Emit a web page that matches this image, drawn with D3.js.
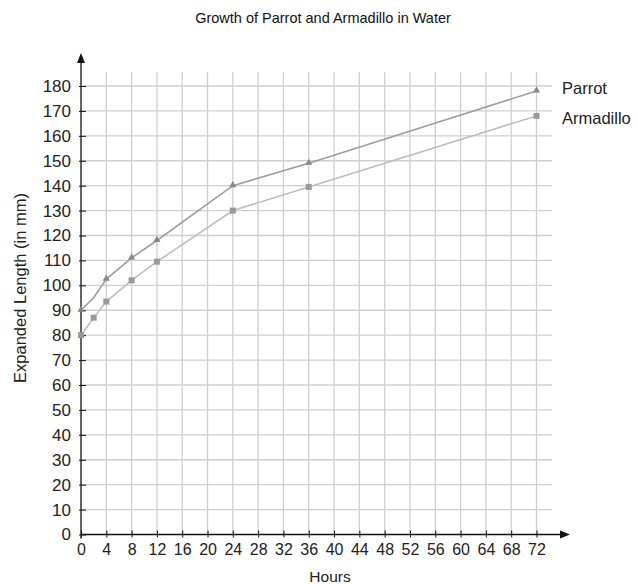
<!DOCTYPE html>
<html>
<head>
<meta charset="utf-8">
<script src="https://cdn.jsdelivr.net/npm/d3@7"></script>
<style>
  body { margin: 0; background: #fff; }
  svg { font-family: "Liberation Sans", Arial, sans-serif; }
</style>
</head>
<body>
<script>
// data
const hours = [0, 2, 4, 8, 12, 24, 36, 72];
const parrot = [90, 95, 102.5, 111, 118, 140, 149, 178];
const armadillo = [80, 87, 93.5, 102, 109.5, 130, 139.5, 168];
const parrotMarked = [true, false, true, true, true, true, true, true];
const xTicks = d3.range(0, 73, 4);
const yTicks = d3.range(0, 181, 10);

const width = 638, height = 584;
const svg = d3.select("body").append("svg").attr("width", width).attr("height", height);

const x = d3.scaleLinear().domain([0, 72]).range([81, 536.5]);
const y = d3.scaleLinear().domain([0, 180]).range([534.5, 86]);

// grid
svg.append("g").selectAll("line")
  .data(xTicks.filter(d => d > 0))
  .enter().append("line")
  .attr("x1", d => x(d)).attr("x2", d => x(d))
  .attr("y1", y(0)).attr("y2", 72)
  .attr("stroke", "#cfcfcf").attr("stroke-width", 1.3);

svg.append("g").selectAll("line")
  .data(yTicks.filter(d => d > 0))
  .enter().append("line")
  .attr("x1", x(0)).attr("x2", 552)
  .attr("y1", d => y(d)).attr("y2", d => y(d))
  .attr("stroke", "#cfcfcf").attr("stroke-width", 1.3);

// axes
const xAxis = svg.append("g").attr("transform", `translate(0,${y(0)})`)
  .call(d3.axisBottom(x).tickValues(xTicks).tickSize(4).tickSizeOuter(0));
xAxis.select(".domain").remove();
xAxis.selectAll(".tick line").attr("y1", -4).attr("y2", 3).attr("stroke", "#111");
xAxis.selectAll("text").attr("font-size", 16).attr("fill", "#222").attr("dy", "0.9em").attr("y", 6);

const yAxis = svg.append("g").attr("transform", `translate(${x(0)},0)`)
  .call(d3.axisLeft(y).tickValues(yTicks).tickSize(2).tickSizeOuter(0));
yAxis.select(".domain").remove();
yAxis.selectAll(".tick line").attr("x1", -2).attr("x2", 5).attr("stroke", "#111");
yAxis.selectAll("text").attr("font-size", 17).attr("fill", "#222").attr("x", -10);

svg.append("line").attr("x1", x(0)).attr("x2", 562).attr("y1", y(0)).attr("y2", y(0))
  .attr("stroke", "#111").attr("stroke-width", 1.3);
svg.append("path").attr("d", `M570,${y(0)} L560,${y(0) - 4} L560,${y(0) + 4} Z`).attr("fill", "#111");
svg.append("line").attr("x1", x(0)).attr("x2", x(0)).attr("y1", y(0) + 4).attr("y2", 60)
  .attr("stroke", "#111").attr("stroke-width", 1.3);
svg.append("path").attr("d", `M${x(0)},53 L${x(0) - 4},63 L${x(0) + 4},63 Z`).attr("fill", "#111");

// lines
const line = vals => d3.line().x((d, i) => x(hours[i])).y(d => y(d))(vals);

svg.append("path").attr("d", line(armadillo)).attr("fill", "none")
  .attr("stroke", "#bdbdbd").attr("stroke-width", 1.6);
svg.append("path").attr("d", line(parrot)).attr("fill", "none")
  .attr("stroke", "#9d9d9d").attr("stroke-width", 1.6);

// markers
svg.append("g").selectAll("rect")
  .data(armadillo)
  .enter().append("rect")
  .attr("x", (d, i) => x(hours[i]) - 3).attr("y", d => y(d) - 3)
  .attr("width", 6).attr("height", 6)
  .attr("fill", "#999");

const tri = d3.symbol().type(d3.symbolTriangle).size(22);
svg.append("g").selectAll("path")
  .data(parrot.map((v, i) => ({ h: hours[i], v, m: parrotMarked[i] })).filter(d => d.m))
  .enter().append("path")
  .attr("d", tri)
  .attr("transform", d => `translate(${x(d.h)},${y(d.v) - 0.5})`)
  .attr("fill", "#888");

// labels
svg.append("text").attr("x", 562).attr("y", 94).attr("font-size", 16.5).attr("fill", "#222").text("Parrot");
svg.append("text").attr("x", 562).attr("y", 124).attr("font-size", 16.5).attr("fill", "#222").text("Armadillo");

svg.append("text").attr("x", 323).attr("y", 23).attr("text-anchor", "middle")
  .attr("font-size", 14.5).attr("fill", "#111").text("Growth of Parrot and Armadillo in Water");

svg.append("text").attr("x", 330).attr("y", 582).attr("text-anchor", "middle")
  .attr("font-size", 15.5).attr("fill", "#222").text("Hours");

svg.append("text").attr("transform", "translate(26,288) rotate(-90)").attr("text-anchor", "middle")
  .attr("font-size", 16.5).attr("fill", "#222").text("Expanded Length (in mm)");
</script>
</body>
</html>
